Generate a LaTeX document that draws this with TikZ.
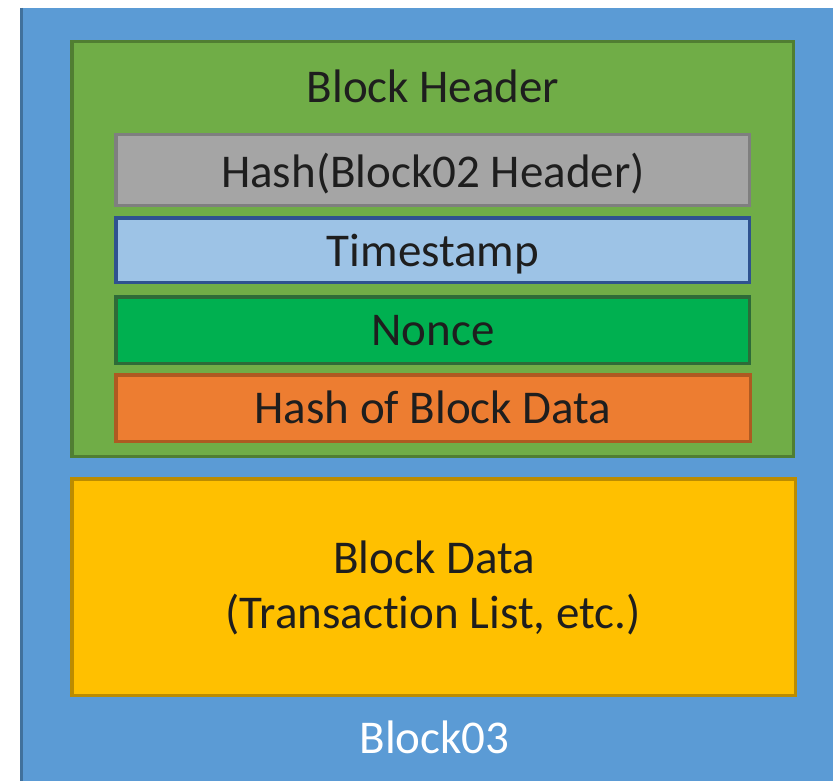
\documentclass[tikz,border=0pt]{standalone}
\usepackage{fontspec}
\setmainfont[Ligatures=NoCommon]{Carlito}
\definecolor{bgblue}{HTML}{5B9BD5}
\definecolor{bgblueline}{HTML}{41719C}
\definecolor{hdrgreen}{HTML}{70AD47}
\definecolor{hdrgreenline}{HTML}{507E32}
\definecolor{hashgray}{HTML}{A5A5A5}
\definecolor{hashgrayline}{HTML}{7F7F7F}
\definecolor{tsblue}{HTML}{9DC3E6}
\definecolor{tsblueline}{HTML}{2F528F}
\definecolor{noncegreen}{HTML}{00B050}
\definecolor{noncegreenline}{HTML}{2E6B38}
\definecolor{dataorange}{HTML}{ED7D31}
\definecolor{dataorangeline}{HTML}{AE5A21}
\definecolor{datayellow}{HTML}{FFC000}
\definecolor{datayellowline}{HTML}{BC8C00}
\definecolor{txtdark}{HTML}{1E1E1E}
\tikzset{
  boxframe/.style={line width=3.5pt},
  lbl/.style={anchor=base, inner sep=0pt, font=\fontsize{47}{56}\selectfont, text=txtdark},
}
\begin{document}
\begin{tikzpicture}[x=1pt,y=-1pt]
\useasboundingbox (0,0) rectangle (833,781);
\fill[white] (0,0) rectangle (833,781);
% outer block
\fill[bgblue] (20,8) rectangle (833,781);
\draw[bgblueline, line width=3pt] (21.5,8) -- (21.5,781);
% header
\draw[boxframe, draw=hdrgreenline, fill=hdrgreen] (71.75,41.75) rectangle (793.25,456.25);
\node[lbl] (hdr) at (433,103) {Block Header};
\draw[boxframe, draw=hashgrayline, fill=hashgray] (115.75,134.75) rectangle (749.25,205.25);
\node[lbl] (prev) at (433,187) {Hash(Block02 Header)};
\draw[boxframe, draw=tsblueline, fill=tsblue] (115.75,217.75) rectangle (749.25,282.25);
\node[lbl] (ts) at (433,266) {Timestamp};
\draw[boxframe, draw=noncegreenline, fill=noncegreen] (115.75,296.75) rectangle (749.25,363.25);
\node[lbl] (nonce) at (433,345) {Nonce};
\draw[boxframe, draw=dataorangeline, fill=dataorange] (115.75,374.75) rectangle (750.25,441.25);
\node[lbl] (hbd) at (433,423) {Hash of Block Data};
% data
\draw[boxframe, draw=datayellowline, fill=datayellow] (71.75,478.75) rectangle (795.25,695.25);
\node[lbl] (bd1) at (434,573) {Block Data};
\node[lbl] (bd2) at (433,628) {(Transaction List, etc.)};
\node[lbl, text=white] (name) at (434.5,753) {Block03};
\end{tikzpicture}
\end{document}
